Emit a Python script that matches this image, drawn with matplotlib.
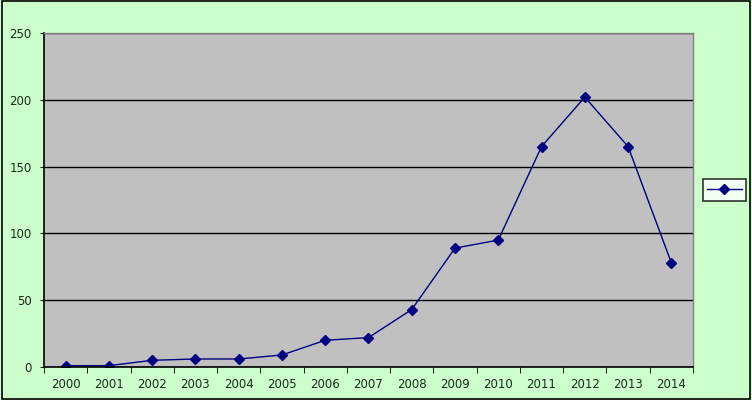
import matplotlib
matplotlib.use("Agg")
import matplotlib.pyplot as plt
from matplotlib.patches import Rectangle
import numpy as np

years = ["2000", "2001", "2002", "2003", "2004", "2005", "2006", "2007",
         "2008", "2009", "2010", "2011", "2012", "2013", "2014"]
values = [1, 1, 5, 6, 6, 9, 20, 22, 43, 89, 95, 165, 202, 165, 78]
yticks = [0, 50, 100, 150, 200, 250]

fig = plt.figure(figsize=(7.52, 4.0), dpi=100)
fig.patch.set_facecolor("#CCFFCC")
fig.patches.append(Rectangle((0.002, 0.003), 0.996, 0.994, transform=fig.transFigure,
                             fill=False, edgecolor="black", linewidth=1.2))

ax = fig.add_axes([0.0585, 0.0825, 0.863, 0.835])
ax.set_facecolor("#C0C0C0")
x = np.arange(len(years))
line, = ax.plot(x, values, color="#000080", linewidth=1, marker="D", markersize=5,
                markerfacecolor="#000080", markeredgecolor="#000080")
ax.set_xlim(-0.5, len(years) - 0.5)
ax.set_ylim(0, 250)
ax.set_yticks(yticks)
ax.set_yticklabels([str(v) for v in yticks])
ax.set_xticks(x)
ax.set_xticklabels(years)
ax.set_xticks(np.arange(-0.5, len(years)), minor=True)
ax.tick_params(axis="x", which="major", length=0, pad=8, labelsize=8.5, colors="#1a2a1a")
ax.tick_params(axis="x", which="minor", length=4, direction="out", color="black")
ax.tick_params(axis="y", which="major", length=3, direction="out", pad=6, labelsize=8.5, colors="#1a2a1a")
ax.yaxis.grid(True, color="black", linewidth=1)
ax.set_axisbelow(True)
for s in ["top", "right"]:
    ax.spines[s].set_color("#808080")
    ax.spines[s].set_linewidth(1)
for s in ["left", "bottom"]:
    ax.spines[s].set_color("black")
    ax.spines[s].set_linewidth(1.2)

leg = fig.legend([line], [""], loc="center", bbox_to_anchor=(0.963, 0.525),
                 frameon=True, fancybox=False, edgecolor="black", facecolor="white",
                 handlelength=2.5, handletextpad=0, borderpad=0.3, markerscale=1)
leg.get_frame().set_linewidth(1.2)

fig.savefig("out.png", dpi=100, facecolor=fig.get_facecolor())
